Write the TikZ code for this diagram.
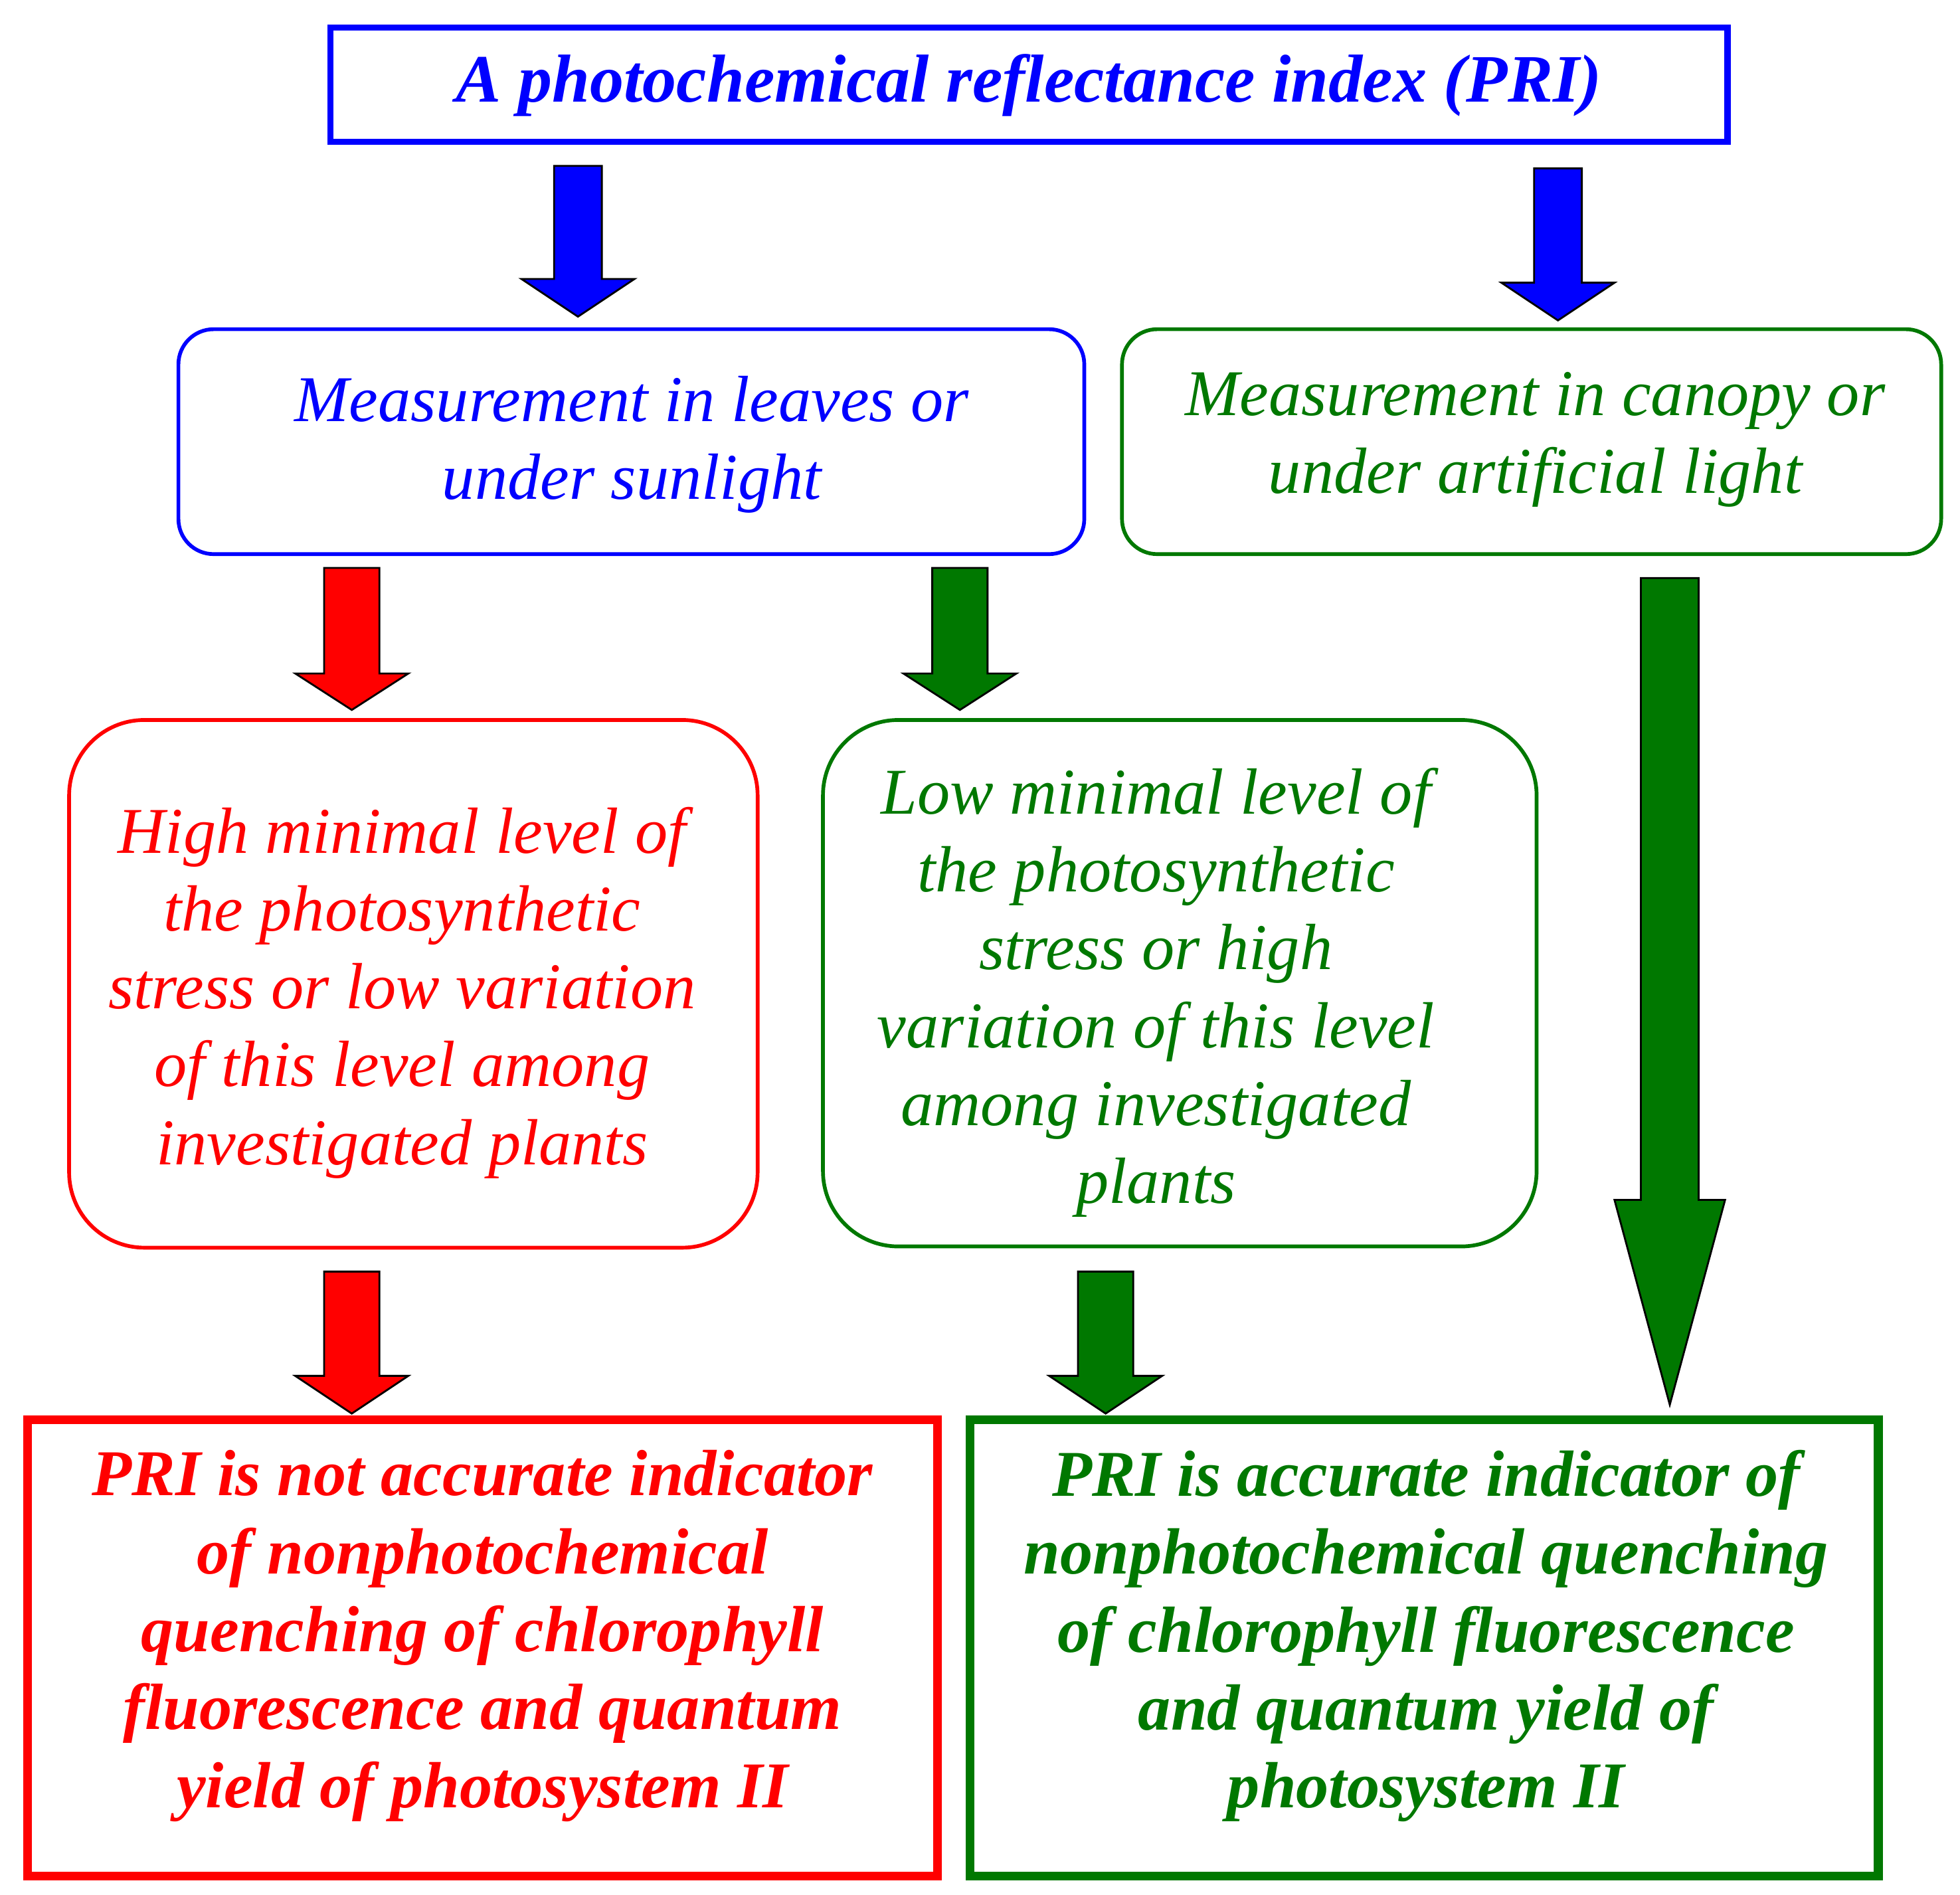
\documentclass[tikz,border=0pt]{standalone}
\usepackage{fontspec}
\setmainfont{Liberation Serif}
\definecolor{gr}{RGB}{0,120,0}
\definecolor{bl}{RGB}{0,0,255}
\definecolor{rd}{RGB}{255,0,0}
\newcommand{\blockarr}[7]{% x, ytop, yheadstart, ybottom, halfshaft, halfhead, color
  \filldraw[fill=#7,draw=black,line width=1.5pt] (#1-#5,#2) -- (#1+#5,#2) -- (#1+#5,#3) -- (#1+#6,#3) -- (#1,#4) -- (#1-#6,#3) -- (#1-#5,#3) -- cycle;}
\begin{document}
\begin{tikzpicture}[x=1pt,y=-1pt,
  txt/.style={align=center,font=\fontsize{52}{62}\selectfont\itshape},
  btxt/.style={align=center,font=\fontsize{52}{62}\selectfont\bfseries\itshape}]
\useasboundingbox (0,0) rectangle (1560,1508);
% boxes
\draw[bl,line width=5pt] (263,22) rectangle (1375,113);
\node[btxt,bl,font=\fontsize{54}{62}\selectfont\bfseries\itshape] (t) at (819,68) {A photochemical reflectance index (PRI)};
\draw[bl,line width=3pt,rounded corners=28pt] (142,262) rectangle (863,441);
\node[txt,bl] (l1) at (503,354) {Measurement in leaves or\\under sunlight};
\draw[gr,line width=3pt,rounded corners=28pt] (893,262) rectangle (1545,441);
\node[txt,gr] (r1) at (1222,350) {Measurement in canopy or\\under artificial light};
\draw[rd,line width=3pt,rounded corners=60pt] (55,573) rectangle (603,993);
\node[txt,rd] (l2) at (320,790) {High minimal level of\\the photosynthetic\\stress or low variation\\of this level among\\investigated plants};
\draw[gr,line width=3pt,rounded corners=60pt] (655,573) rectangle (1223,992);
\node[txt,gr] (m2) at (920,790) {Low minimal level of\\the photosynthetic\\stress or high\\variation of this level\\among investigated\\plants};
\draw[rd,line width=7pt] (22,1130) rectangle (746,1493);
\node[btxt,rd] (l3) at (384,1302) {PRI is not accurate indicator\\of nonphotochemical\\quenching of chlorophyll\\fluorescence and quantum\\yield of photosystem II};
\draw[gr,line width=7pt] (772,1130) rectangle (1495,1493);
\node[btxt,gr] (r3) at (1135,1302) {PRI is accurate indicator of\\nonphotochemical quenching\\of chlorophyll fluorescence\\and quantum yield of\\photosystem II};
% arrows
\blockarr{460}{132}{222}{252}{19}{45}{bl}
\blockarr{1240}{134}{225}{255}{19}{45}{bl}
\blockarr{280}{452}{536}{565}{22}{45}{rd}
\blockarr{764}{452}{536}{565}{22}{45}{gr}
\blockarr{1329}{460}{955}{1118}{23}{44}{gr}
\blockarr{280}{1012}{1095}{1125}{22}{45}{rd}
\blockarr{880}{1012}{1095}{1125}{22}{45}{gr}
\end{tikzpicture}
\end{document}
